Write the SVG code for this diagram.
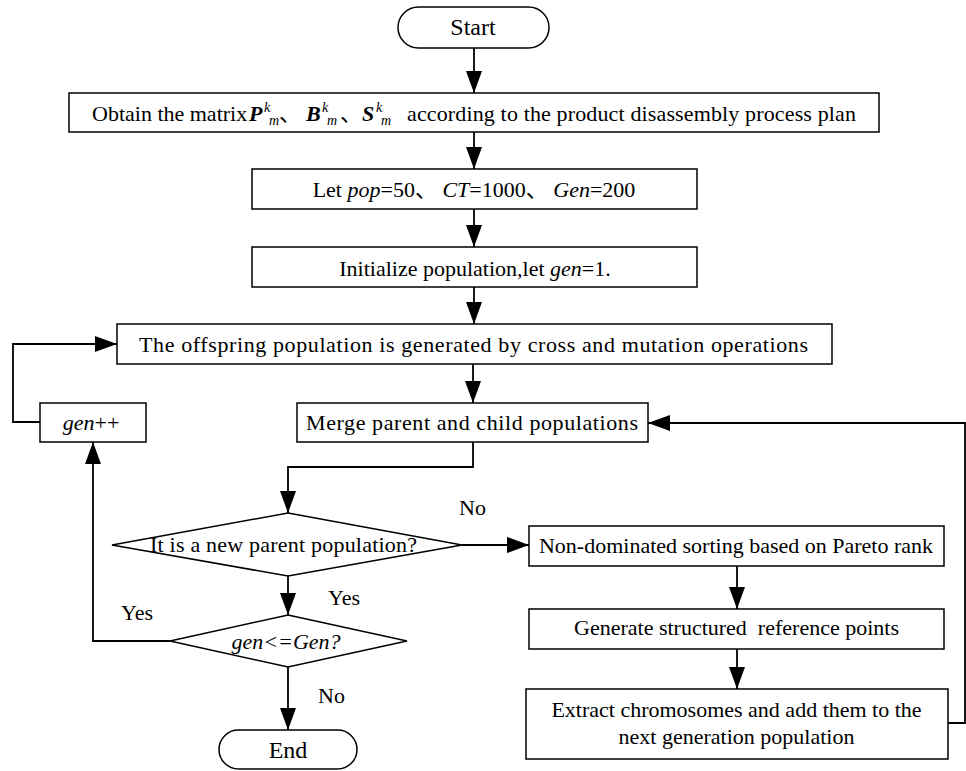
<svg xmlns="http://www.w3.org/2000/svg" width="966" height="771" viewBox="0 0 966 771">
<style>
.box{fill:#fff;stroke:#000;stroke-width:1.5}
.t{font-family:"Liberation Serif","Noto Sans CJK SC",serif;font-size:22px;fill:#000}
.m{text-anchor:middle}
.i{font-style:italic}
.bi{font-style:italic;font-weight:bold}
.s{font-size:14px;font-style:italic}
.c{fill:none;stroke:#000;stroke-width:1.8}
</style>
<defs>
<marker id="ah" markerUnits="userSpaceOnUse" markerWidth="24" markerHeight="18" refX="22" refY="8" orient="auto">
<path d="M0,0 L22,8 L0,16 Z" fill="#000"/>
</marker>
</defs>
<rect width="966" height="771" fill="#fff"/>
<g id="connectors">
<path class="c" d="M474 48 V93" marker-end="url(#ah)"/>
<path class="c" d="M474 132 V169" marker-end="url(#ah)"/>
<path class="c" d="M474 209 V247" marker-end="url(#ah)"/>
<path class="c" d="M474 287 V324" marker-end="url(#ah)"/>
<path class="c" d="M473 364 V403" marker-end="url(#ah)"/>
<path class="c" d="M473 442 V467 H288 V513" marker-end="url(#ah)"/>
<path class="c" d="M462 545 H529" marker-end="url(#ah)"/>
<path class="c" d="M737 566 V609" marker-end="url(#ah)"/>
<path class="c" d="M737 649 V689" marker-end="url(#ah)"/>
<path class="c" d="M948 723 H965 V423 H648" marker-end="url(#ah)"/>
<path class="c" d="M288 576 V615" marker-end="url(#ah)"/>
<path class="c" d="M170 641 H93 V442" marker-end="url(#ah)"/>
<path class="c" d="M40 422 H13 V344 H117" marker-end="url(#ah)"/>
<path class="c" d="M288 667 V730" marker-end="url(#ah)"/>
</g>
<g id="labels">
<text class="t" x="459" y="515">No</text>
<text class="t" x="328" y="605">Yes</text>
<text class="t" x="121" y="620">Yes</text>
<text class="t" x="318" y="703">No</text>
</g>
<g id="start">
<rect class="box" x="398" y="7" width="151" height="41" rx="20.5"/>
<text class="t m" x="473" y="35" style="font-size:24px">Start</text>
</g>
<g id="obtain">
<rect class="box" x="69" y="93" width="810" height="39"/>
<text class="t" x="92" y="121">Obtain the matrix</text>
<text class="t bi" x="249" y="121">P</text>
<text class="t s" x="264" y="112">k</text>
<text class="t s" x="269" y="125">m</text>
<text class="t" x="279" y="121">、</text>
<text class="t bi" x="306" y="121">B</text>
<text class="t s" x="322" y="112">k</text>
<text class="t s" x="327" y="125">m</text>
<text class="t" x="340" y="121">、</text>
<text class="t bi" x="362" y="121">S</text>
<text class="t s" x="376" y="112">k</text>
<text class="t s" x="381" y="125">m</text>
<text class="t" x="407" y="121" textLength="449" lengthAdjust="spacing">according to the product disassembly process plan</text>
</g>
<g id="let">
<rect class="box" x="252" y="169" width="445" height="40"/>
<text class="t m" x="474" y="197">Let <tspan class="i">pop</tspan>=50、 <tspan class="i">CT</tspan>=1000、 <tspan class="i">Gen</tspan>=200</text>
</g>
<g id="init">
<rect class="box" x="252" y="247" width="445" height="40"/>
<text class="t m" x="475" y="276">Initialize population,let <tspan class="i">gen</tspan>=1.</text>
</g>
<g id="offspring">
<rect class="box" x="117" y="324" width="715" height="40"/>
<text class="t" x="139" y="352" textLength="669" lengthAdjust="spacing">The offspring population is generated by cross and mutation operations</text>
</g>
<g id="genpp">
<rect class="box" x="40" y="403" width="106" height="39"/>
<text class="t m" x="91" y="430"><tspan class="i">gen</tspan>++</text>
</g>
<g id="merge">
<rect class="box" x="297" y="403" width="351" height="39"/>
<text class="t" x="306" y="430" textLength="332" lengthAdjust="spacing">Merge parent and child populations</text>
</g>
<g id="decision1">
<polygon class="box" points="288,513 462,545 288,576 112,545"/>
<text class="t" x="150" y="552" textLength="267" lengthAdjust="spacing">It is a new parent population?</text>
</g>
<g id="nondom">
<rect class="box" x="529" y="526" width="415" height="40"/>
<text class="t m" x="736" y="553">Non-dominated sorting based on Pareto rank</text>
</g>
<g id="generate">
<rect class="box" x="529" y="609" width="415" height="40"/>
<text class="t m" x="736.5" y="635" xml:space="preserve">Generate structured  reference points</text>
</g>
<g id="extract">
<rect class="box" x="526" y="689" width="422" height="70"/>
<text class="t m" x="736.5" y="717">Extract chromosomes and add them to the</text>
<text class="t m" x="736.5" y="744">next generation population</text>
</g>
<g id="decision2">
<polygon class="box" points="288,615 407,641 288,667 170,641"/>
<text class="t m i" x="286" y="649">gen&lt;=Gen?</text>
</g>
<g id="end">
<rect class="box" x="219" y="730" width="138" height="39" rx="19.5"/>
<text class="t m" x="288" y="758" style="font-size:24px">End</text>
</g>
</svg>
